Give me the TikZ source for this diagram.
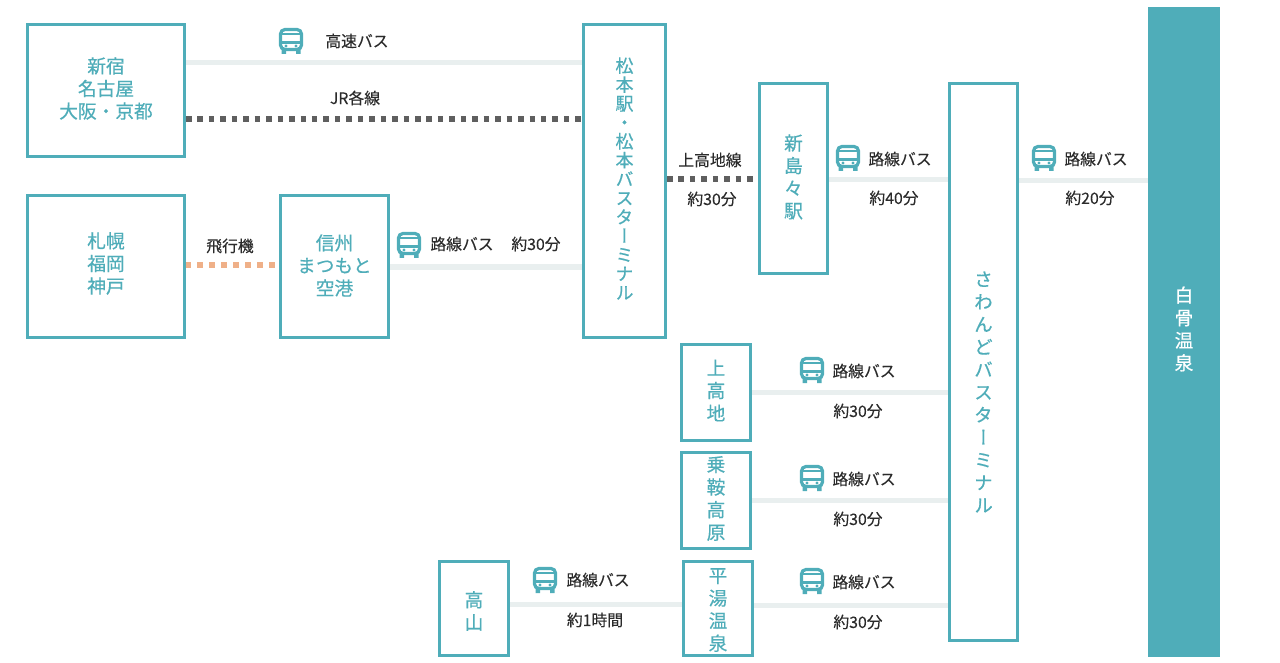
\documentclass[tikz,border=0pt]{standalone}
\usepackage{fontspec}
\setmainfont[FakeBold=0.25]{Noto Sans CJK JP}
\newfontfamily\vjp[RawFeature={+vert},FakeBold=0.5]{Noto Sans CJK JP}
\definecolor{teal}{HTML}{4FADB9}
\definecolor{lineg}{HTML}{E9EFEF}
\definecolor{dotg}{HTML}{5F5F5F}
\definecolor{dotor}{HTML}{EFB088}
\definecolor{lab}{HTML}{2B2B2B}
\tikzset{
 box/.style={draw=teal,line width=3pt,fill=white,inner sep=0pt,align=center,text=teal,font=\fontsize{18.7}{22.6}\selectfont\vjp,anchor=north west,xshift=-1pt,yshift=1pt},
 solidbox/.style={box,fill=teal,draw=teal,text=white},
 busline/.style={draw=lineg,line width=5pt},
 railline/.style={draw=dotg,line width=5.5pt,dash pattern=on 5.5pt off 5.95pt},
 airline/.style={draw=dotor,line width=5.5pt,dash pattern=on 6pt off 6pt,dash phase=1pt},
 lbl/.style={text=lab,font=\fontsize{15.8}{17}\selectfont,inner sep=0pt},
 busicon/.pic={
  \draw[teal,line width=3.2pt,rounded corners=4.5pt] (-10.5,-11.5) rectangle (10.5,8.5);
  \draw[teal,line width=2.6pt] (-10.5,-7) -- (10.5,-7) (-10.5,1.5) -- (10.5,1.5);
  \fill[teal] (-5,5) circle (1.7) (5,5) circle (1.7);
  \fill[teal] (-9.5,9) rectangle (-5,13) (5,9) rectangle (9.5,13);
 }
}
\begin{document}
\begin{tikzpicture}[x=1pt,y=-1pt]
\useasboundingbox (0,0) rectangle (1280,663);
\coordinate (h1) at (0,63);
\coordinate (h2) at (0,119);
\coordinate (h3) at (0,265);
\coordinate (h4) at (0,267);
\coordinate (h5) at (0,179);
\coordinate (h6) at (0,180);
\coordinate (h7) at (0,181);
\coordinate (h8) at (0,392);
\coordinate (h9) at (0,500);
\coordinate (h10) at (0,604);
\coordinate (h11) at (0,605);
\node[box,minimum width=157pt,minimum height=132pt] (shinjuku) at (27,24) {新宿\\名古屋\\大阪・京都\vspace{4pt}};
\node[box,minimum width=157pt,minimum height=142pt] (sapporo) at (27,195) {札幌\\福岡\\神戸\vspace{6pt}};
\node[box,minimum width=108pt,minimum height=142pt] (shinshu) at (280,195) {信州\\まつもと\\空港\vspace{2pt}};
\node[box,minimum width=82pt,minimum height=313pt,font=\fontsize{18}{18.9}\selectfont\vjp] (matsumoto) at (583,24) {松\\本\\駅\\・\\松\\本\\バ\\ス\\タ\\ー\\ミ\\ナ\\ル\vspace{5pt}};
\node[box,minimum width=68pt,minimum height=190pt] (shinshima) at (759,83) {新\\島\\々\\駅\vspace{3pt}};
\node[box,minimum width=68pt,minimum height=557pt] (sawando) at (949,83) {さ\\わ\\ん\\ど\\バ\\ス\\タ\\ー\\ミ\\ナ\\ル\vspace{-60pt}};
\node[solidbox,minimum width=69pt,minimum height=647pt] (shirahone) at (1149,8) {白\\骨\\温\\泉\vspace{6pt}};
\node[box,minimum width=69pt,minimum height=96pt] (kamikochi) at (681,344) {上\\高\\地\vspace{4pt}};
\node[box,minimum width=69pt,minimum height=96pt] (norikura) at (681,452) {乗\\鞍\\高\\原\vspace{4pt}};
\node[box,minimum width=69pt,minimum height=94pt] (hirayu) at (683,561) {平\\湯\\温\\泉\vspace{-3pt}};
\node[box,minimum width=69pt,minimum height=94pt] (takayama) at (439,561) {高\\山\vspace{-5pt}};
\draw[busline] (shinjuku.east |- h1) -- (matsumoto.west |- h1);
\draw[railline] (shinjuku.east |- h2) -- (matsumoto.west |- h2);
\draw[airline] (sapporo.east |- h3) -- (shinshu.west |- h3);
\draw[busline] (shinshu.east |- h4) -- (matsumoto.west |- h4);
\draw[railline] (matsumoto.east |- h5) -- (shinshima.west |- h5);
\draw[busline] (shinshima.east |- h6) -- (sawando.west |- h6);
\draw[busline] (sawando.east |- h7) -- (shirahone.west |- h7);
\draw[busline] (kamikochi.east |- h8) -- (sawando.west |- h8);
\draw[busline] (norikura.east |- h9) -- (sawando.west |- h9);
\draw[busline] (takayama.east |- h10) -- (hirayu.west |- h10);
\draw[busline] (hirayu.east |- h11) -- (sawando.west |- h11);
\pic at (291,41) {busicon};
\pic at (409,245) {busicon};
\pic at (848,158) {busicon};
\pic at (1044,158) {busicon};
\pic at (812,370) {busicon};
\pic at (812,478) {busicon};
\pic at (812,581) {busicon};
\pic at (545,580) {busicon};
\node[lbl] (l1) at (357,41) {高速バス};
\node[lbl] (l2) at (355,98) {JR各線};
\node[lbl] (l3) at (230,246) {飛行機};
\node[lbl] (l4) at (462,244) {路線バス};
\node[lbl] (l5) at (536,244) {約30分};
\node[lbl] (l6) at (710,160) {上高地線};
\node[lbl] (l7) at (712,199) {約30分};
\node[lbl] (l8) at (900,159) {路線バス};
\node[lbl] (l9) at (894,198) {約40分};
\node[lbl] (l10) at (1096,159) {路線バス};
\node[lbl] (l11) at (1090,198) {約20分};
\node[lbl] (l12) at (864,371) {路線バス};
\node[lbl] (l13) at (858,411) {約30分};
\node[lbl] (l14) at (864,479) {路線バス};
\node[lbl] (l15) at (858,519) {約30分};
\node[lbl] (l16) at (864,582) {路線バス};
\node[lbl] (l17) at (858,622) {約30分};
\node[lbl] (l18) at (598,580) {路線バス};
\node[lbl] (l19) at (595,620) {約1時間};
\end{tikzpicture}
\end{document}
